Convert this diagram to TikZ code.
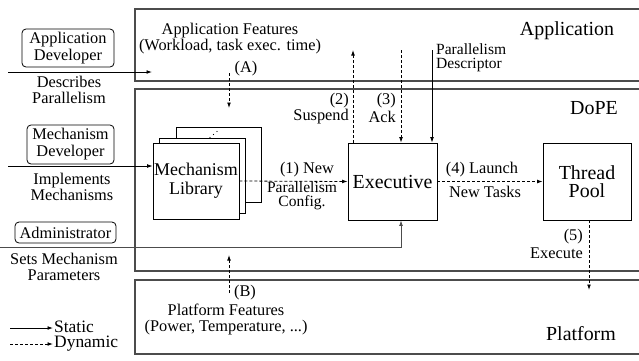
\documentclass[tikz,border=0pt]{standalone}
\usepackage{fontspec}
\setmainfont{Liberation Serif}
\usetikzlibrary{arrows.meta,calc}
\tikzset{
  lbl/.style={font=\fontsize{16.4}{16.7}\selectfont, align=center, inner sep=0pt},
  tight/.style={font=\fontsize{15.6}{14}\selectfont, align=center, inner sep=0pt},
  big/.style={font=\fontsize{20}{19}\selectfont, align=center, inner sep=0pt},
  mid/.style={font=\fontsize{18}{19}\selectfont, align=center, inner sep=0pt},
  leg/.style={font=\fontsize{17.5}{17}\selectfont, inner sep=0pt},
  box/.style={draw, line width=0.8bp, fill=white, inner sep=0pt},
  devbox/.style={draw, line width=0.8bp, rounded corners=4bp, inner sep=0pt, align=center, font=\fontsize{16.4}{17}\selectfont},
  frame/.style={draw=black!70, line width=1.2bp},
  arr/.style={-{Latex[length=5.5bp,width=3.8bp]}, line width=0.8bp},
  dyn/.style={arr, dash pattern=on 3bp off 2bp},
}
\begin{document}
\begin{tikzpicture}[x=1bp,y=-1bp]
\useasboundingbox (0,0) rectangle (639,360);
% frames
\draw[frame] (639,9) -- (135,9) -- (135,81) -- (639,81);
\draw[frame] (639,89) -- (135,89) -- (135,271) -- (639,271);
\draw[frame] (639,280) -- (135,280) -- (135,354) -- (639,354);
\node[big] (tapp) at (567,31) {Application};
\node[big] (tdope) at (594,108) {DoPE};
\node[big] (tplat) at (581,334) {Platform};

% left actors
\node[devbox, minimum width=92bp, minimum height=38bp] (appdev) at (68,48) {Application\\Developer};
\node[devbox, minimum width=87bp, minimum height=39bp] (mechdev) at (70.5,144.5) {Mechanism\\Developer};
\node[devbox, minimum width=101bp, minimum height=21bp] (admin) at (65.5,232.5) {Administrator};

\node[lbl] (ldesc) at (69,90) {Describes\\Parallelism};
\node[lbl] (limpl) at (72,187) {Implements\\Mechanisms};
\node[lbl] (lsets) at (64,267) {Sets Mechanism\\Parameters};

% mechanism library stack
\node[box, minimum width=85bp, minimum height=75bp] (back) at (218.5,164.5) {};
\node[box, minimum width=86bp, minimum height=75bp] (middle) at (202,175.5) {};
\node[box, minimum width=86bp, minimum height=76bp, mid] (mlib) at (196,181) {Mechanism\\Library};
\fill (210,137.5) circle (0.6bp) (213.5,134.5) circle (0.6bp) (217,131.5) circle (0.6bp);

\node[box, minimum width=89bp, minimum height=77bp, big] (exec) at (392.5,181.5) {Executive};
\node[box, minimum width=88bp, minimum height=77bp, big, font=\fontsize{20}{18.5}\selectfont] (pool) at (587,181.5) {Thread\\Pool};

% text labels
\node[lbl] (tfeat) at (230,38.5) {Application Features\\(Workload, task exec. time)};
\node[lbl] (tA) at (246,69) {(A)};
\node[lbl] (tB) at (245,293) {(B)};
\node[lbl] (tpf) at (226,319.5) {Platform Features\\(Power, Temperature, ...)};

\node[lbl] (t1a) at (307,170) {(1) New};
\node[tight] (t1b) at (302,195.5) {Parallelism\\Config.};
\node[lbl] (t4a) at (482,170) {(4) Launch};
\node[lbl] (t4b) at (485,192) {New Tasks};

\node[lbl, anchor=east] (t2a) at (349,101) {(2)};
\node[lbl, anchor=east] (t2b) at (349,117) {Suspend};
\node[lbl, anchor=east] (t3a) at (396,101) {(3)};
\node[lbl, anchor=east] (t3b) at (396,117) {Ack};
\node[tight, align=left, anchor=west] (tpd) at (436,57.5) {Parallelism\\Descriptor};
\node[lbl, anchor=east] (t5a) at (583,237) {(5)};
\node[lbl, anchor=east] (t5b) at (583,253) {Execute};

% connector ends
\coordinate (appstart) at (8,72);
\coordinate (append) at (152,72);
\coordinate (mechstart) at (8,166);
\coordinate (admstart) at (0,247);
\coordinate (admx) at (401,0);
\coordinate (Atop) at (229,73);
\coordinate (Abot) at (229,108);
\coordinate (Bbot) at (229,293);
\coordinate (Btop) at (229,255);
\coordinate (s2top) at (353,50);
\coordinate (acktop) at (401,50);
\coordinate (pdtop) at (432,50);
\coordinate (exbot) at (589,290);

\draw[arr] (appstart) -- (append);
\draw[arr] (mechstart) -- (mechstart -| mlib.west);
\draw[arr, draw=black!70] (admstart) -| (admx |- exec.south);
\draw[dyn] (Atop) -- (Abot);
\draw[dyn] (Bbot) -- (Btop);
\draw[dyn] (mlib.east) -- (exec.west);
\draw[dyn] (exec.east) -- (pool.west);
\draw[dyn] (s2top |- exec.north) -- (s2top);
\draw[dyn] (acktop) -- (acktop |- exec.north);
\draw[arr] (pdtop) -- (pdtop |- exec.north);
\draw[dyn] (exbot |- pool.south) -- (exbot);

% legend
\coordinate (ls1) at (10,328);
\coordinate (ls2) at (53,328);
\coordinate (ld1) at (10,344);
\coordinate (ld2) at (53,344);
\draw[arr] (ls1) -- (ls2);
\draw[dyn] (ld1) -- (ld2);
\node[leg, anchor=west] (tstatic) at (54,327) {Static};
\node[leg, anchor=west] (tdyn) at (54,344) {Dynamic};
\end{tikzpicture}
\end{document}
